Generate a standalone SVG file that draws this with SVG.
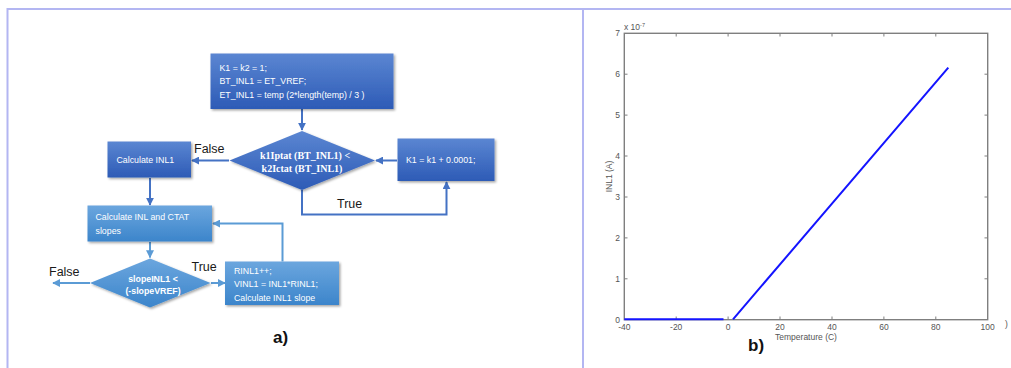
<svg xmlns="http://www.w3.org/2000/svg" width="1011" height="368" viewBox="0 0 1011 368">
  <defs>
    <linearGradient id="gDark" x1="0" y1="0" x2="0" y2="1">
      <stop offset="0" stop-color="#5b86d2"/>
      <stop offset="1" stop-color="#2d5bb6"/>
    </linearGradient>
    <linearGradient id="gLight" x1="0" y1="0" x2="0" y2="1">
      <stop offset="0" stop-color="#6ba6de"/>
      <stop offset="1" stop-color="#3c85cb"/>
    </linearGradient>
    <filter id="shadow" x="-10%" y="-10%" width="130%" height="140%">
      <feDropShadow dx="1.5" dy="1.5" stdDeviation="1" flood-color="#000" flood-opacity="0.35"/>
    </filter>
    <marker id="arrD" viewBox="0 0 10 10" refX="9" refY="5" markerWidth="4" markerHeight="4" orient="auto">
      <path d="M0,0 L10,5 L0,10 z" fill="#4472c4"/>
    </marker>
    <marker id="arrL" viewBox="0 0 10 10" refX="9" refY="5" markerWidth="4" markerHeight="4" orient="auto">
      <path d="M0,0 L10,5 L0,10 z" fill="#5b9bd5"/>
    </marker>
  </defs>
  <style>
    .frame { stroke: #b3b6f2; stroke-width: 2; fill: none; }
    .box-text { font-family: "Liberation Sans", Arial, sans-serif; font-size: 8.8px; fill: #ffffff; }
    .dia-serif { font-family: "Liberation Serif", "Times New Roman", serif; font-weight: bold; font-size: 10px; fill: #ffffff; }
    .dia-sans { font-family: "Liberation Sans", Arial, sans-serif; font-weight: bold; font-size: 8.8px; fill: #ffffff; }
    .lbl { font-family: "Liberation Sans", Arial, sans-serif; font-size: 12.5px; fill: #1a1a1a; }
    .panel { font-family: "Liberation Sans", Arial, sans-serif; font-weight: bold; font-size: 17px; fill: #111; }
    .cD { stroke: #4472c4; stroke-width: 2; fill: none; }
    .cL { stroke: #5b9bd5; stroke-width: 2; fill: none; }
    .axis { stroke: #7f7f7f; stroke-width: 1.4; fill: none; }
    .tick { stroke: #7f7f7f; stroke-width: 1; }
    .tl { font-family: "Liberation Sans", Arial, sans-serif; font-size: 8.5px; fill: #555; }
  </style>

  <!-- page frame -->
  <path class="frame" d="M7.5,368 V9 H1011"/>
  <line class="frame" x1="583" y1="9" x2="583" y2="368"/>

  <!-- connectors -->
  <g id="connectors">
    <line class="cD" x1="302" y1="109" x2="302" y2="130" marker-end="url(#arrD)"/>
    <line class="cD" x1="229" y1="160.5" x2="192" y2="160.5" marker-end="url(#arrD)"/>
    <line class="cD" x1="397" y1="160.5" x2="376" y2="160.5" marker-end="url(#arrD)"/>
    <polyline class="cD" points="302,190 302,214.5 446.5,214.5 446.5,182" marker-end="url(#arrD)"/>
    <line class="cD" x1="150" y1="178" x2="150" y2="205" marker-end="url(#arrD)"/>
    <line class="cL" x1="150" y1="242" x2="150" y2="257.5" marker-end="url(#arrL)"/>
    <line class="cL" x1="90" y1="283" x2="53" y2="283" marker-end="url(#arrL)"/>
    <line class="cL" x1="211" y1="283" x2="225" y2="283" marker-end="url(#arrL)"/>
    <polyline class="cL" points="282.5,261.5 282.5,223.5 213,223.5" marker-end="url(#arrL)"/>
    <text class="lbl" x="194" y="153">False</text>
    <text class="lbl" x="337" y="208">True</text>
    <text class="lbl" x="49" y="276">False</text>
    <text class="lbl" x="191.5" y="271">True</text>
  </g>

  <!-- initialisation -->
  <g id="init">
    <rect x="210.5" y="53.5" width="183" height="55.5" fill="url(#gDark)" filter="url(#shadow)"/>
    <text class="box-text" x="219.5" y="71">K1 = k2 = 1;</text>
    <text class="box-text" x="219.5" y="84">BT_INL1 = ET_VREF;</text>
    <text class="box-text" x="219.5" y="98">ET_INL1 = temp (2*length(temp) / 3 )</text>
  </g>

  <!-- comparison of PTAT and CTAT currents -->
  <g id="cmp1">
    <polygon points="302,131 375,160.5 302,190 229.5,160.5" fill="url(#gDark)" filter="url(#shadow)"/>
    <text class="dia-serif" x="305" y="158.5" text-anchor="middle">k1Iptat (BT_INL1) &lt;</text>
    <text class="dia-serif" x="302" y="171.5" text-anchor="middle">k2Ictat (BT_INL1)</text>
  </g>

  <g id="calcINL1">
    <rect x="107.5" y="141.5" width="83.5" height="36" fill="url(#gDark)" filter="url(#shadow)"/>
    <text class="box-text" x="116.5" y="163">Calculate INL1</text>
  </g>

  <g id="incK1">
    <rect x="397.5" y="138.5" width="97" height="42.5" fill="url(#gDark)" filter="url(#shadow)"/>
    <text class="box-text" x="406" y="163">K1 = k1 + 0.0001;</text>
  </g>

  <g id="slopes">
    <rect x="87.5" y="205.5" width="124.5" height="36" fill="url(#gLight)" filter="url(#shadow)"/>
    <text class="box-text" x="95.5" y="220">Calculate INL and CTAT</text>
    <text class="box-text" x="95.5" y="233.5">slopes</text>
  </g>

  <g id="cmp2">
    <polygon points="150,258.5 210.5,283 150,307.5 90,283" fill="url(#gLight)" filter="url(#shadow)"/>
    <text class="dia-sans" x="153" y="282" text-anchor="middle">slopeINL1 &lt;</text>
    <text class="dia-sans" x="153" y="293.5" text-anchor="middle">(-slopeVREF)</text>
  </g>

  <g id="rinl">
    <rect x="225" y="261.5" width="114" height="43.5" fill="url(#gLight)" filter="url(#shadow)"/>
    <text class="box-text" x="234" y="274">RINL1++;</text>
    <text class="box-text" x="234" y="287">VINL1 = INL1*RINL1;</text>
    <text class="box-text" x="234" y="300.5">Calculate INL1 slope</text>
  </g>

  <text class="panel" x="273" y="343">a)</text>

  <!-- INL1 versus temperature plot -->
  <g id="plot">
    <rect class="axis" x="624.3" y="33.3" width="363.4" height="286.4"/>
    <g class="tick">
      <!-- x ticks every 20 C -->
      <line x1="676.2" y1="319.7" x2="676.2" y2="316.5"/><line x1="676.2" y1="33.3" x2="676.2" y2="36.5"/>
      <line x1="728.1" y1="319.7" x2="728.1" y2="316.5"/><line x1="728.1" y1="33.3" x2="728.1" y2="36.5"/>
      <line x1="780.0" y1="319.7" x2="780.0" y2="316.5"/><line x1="780.0" y1="33.3" x2="780.0" y2="36.5"/>
      <line x1="832.0" y1="319.7" x2="832.0" y2="316.5"/><line x1="832.0" y1="33.3" x2="832.0" y2="36.5"/>
      <line x1="883.9" y1="319.7" x2="883.9" y2="316.5"/><line x1="883.9" y1="33.3" x2="883.9" y2="36.5"/>
      <line x1="935.8" y1="319.7" x2="935.8" y2="316.5"/><line x1="935.8" y1="33.3" x2="935.8" y2="36.5"/>
      <!-- y ticks every 1e-7 -->
      <line x1="624.3" y1="278.8" x2="627.5" y2="278.8"/><line x1="987.7" y1="278.8" x2="984.5" y2="278.8"/>
      <line x1="624.3" y1="237.9" x2="627.5" y2="237.9"/><line x1="987.7" y1="237.9" x2="984.5" y2="237.9"/>
      <line x1="624.3" y1="197.0" x2="627.5" y2="197.0"/><line x1="987.7" y1="197.0" x2="984.5" y2="197.0"/>
      <line x1="624.3" y1="156.0" x2="627.5" y2="156.0"/><line x1="987.7" y1="156.0" x2="984.5" y2="156.0"/>
      <line x1="624.3" y1="115.1" x2="627.5" y2="115.1"/><line x1="987.7" y1="115.1" x2="984.5" y2="115.1"/>
      <line x1="624.3" y1="74.2" x2="627.5" y2="74.2"/><line x1="987.7" y1="74.2" x2="984.5" y2="74.2"/>
    </g>
    <g class="tl" text-anchor="end">
      <text x="620" y="322.5">0</text>
      <text x="620" y="281.6">1</text>
      <text x="620" y="240.7">2</text>
      <text x="620" y="199.8">3</text>
      <text x="620" y="158.8">4</text>
      <text x="620" y="117.9">5</text>
      <text x="620" y="77">6</text>
      <text x="620" y="36">7</text>
    </g>
    <g class="tl" text-anchor="middle">
      <text x="624.3" y="330">-40</text>
      <text x="676.2" y="330">-20</text>
      <text x="728.1" y="330">0</text>
      <text x="780" y="330">20</text>
      <text x="832" y="330">40</text>
      <text x="883.9" y="330">60</text>
      <text x="935.8" y="330">80</text>
      <text x="987.7" y="330">100</text>
    </g>
    <text class="tl" x="624" y="30">x 10<tspan dy="-3" font-size="5.5">-7</tspan></text>
    <text class="tl" x="806" y="340" text-anchor="middle">Temperature (C)</text>
    <text class="tl" transform="translate(612,176.5) rotate(-90)" text-anchor="middle">INL1 (A)</text>
    <text class="tl" x="1005" y="327">)</text>
    <path d="M624.3,319.3 H723.5 M733,319.3 L948.3,67.7" stroke="#1414ff" stroke-width="2" fill="none"/>
  </g>

  <text class="panel" x="748" y="351">b)</text>
</svg>
